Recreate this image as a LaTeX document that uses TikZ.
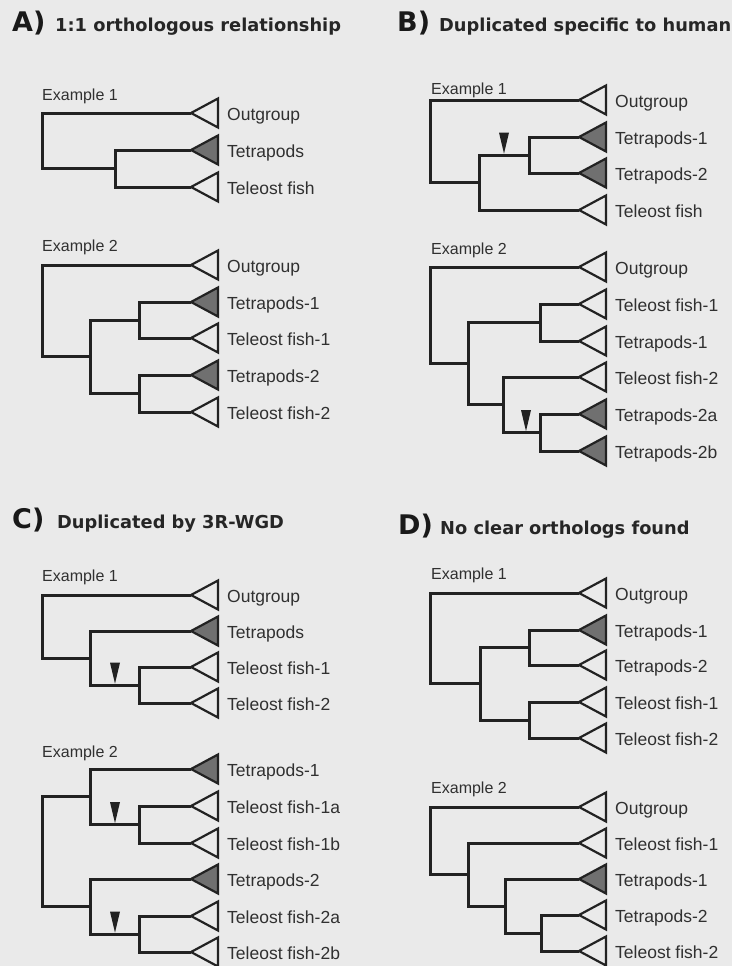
\documentclass[tikz,border=0pt]{standalone}
\usepackage{fontspec}
\setmainfont{Liberation Sans}
\newfontfamily\headfont{DejaVu Sans Bold}
\usetikzlibrary{calc}
\definecolor{paper}{RGB}{234,234,234}
\definecolor{ink}{RGB}{34,34,34}
\definecolor{tetragray}{RGB}{112,112,112}
\definecolor{labelink}{RGB}{48,48,48}
% leaf: name, tip x, y, triangle style, text
\newcommand{\leaf}[5]{%
  \coordinate (#1) at (#2,#3);
  \draw[#4] (#1) -- ++(27,-14.5) -- ++(0,29) -- cycle;
  \node[leaflabel] (#1-lab) at ([xshift=36pt,yshift=-7.5pt]#1) {#5};
}
% clade: parent, upper child, lower child
\newcommand{\clade}[3]{\draw[branch] (#2) -| (#1) |- (#3);}
% duplication mark sitting on a branch
\newcommand{\dupmark}[1]{\fill[ink] ([yshift=1.4pt]#1) -- ++(-5,-21) -- ++(10,0) -- cycle;}

\begin{document}
\begin{tikzpicture}[x=1pt,y=-1pt,
  branch/.style={ink,line width=3pt,line join=miter},
  opentri/.style={draw=ink,line width=2.2pt,line join=miter},
  graytri/.style={opentri,fill=tetragray},
  leaflabel/.style={anchor=base west,inner sep=0pt,text=labelink,font=\fontsize{17.5}{20}\selectfont},
  exlabel/.style={anchor=base west,inner sep=0pt,text=labelink,font=\fontsize{16}{18}\selectfont},
  panelletter/.style={anchor=base west,inner sep=0pt,text=black!90,font=\headfont\fontsize{27}{29}\selectfont},
  paneltitle/.style={anchor=base west,inner sep=0pt,text=black!85,font=\headfont\fontsize{17.8}{20}\selectfont}]
  \fill[paper] (0,0) rectangle (732,966);
  \useasboundingbox (0,0) rectangle (732,966);

  % A) 1:1 orthologous relationship
  \node[panelletter] (A) at (12,32) {A)};
  \node[paneltitle] (Atitle) at (55,32) {1:1 orthologous relationship};
  \node[exlabel] (a1lab) at (42,100) {Example 1};
  \leaf{a1o}{191}{113}{opentri}{Outgroup}
  \leaf{a1t}{191}{150}{graytri}{Tetrapods}
  \leaf{a1f}{191}{187}{opentri}{Teleost fish}
  \coordinate (a1n) at (115,168.5);
  \coordinate (a1r) at (42,140.75);
  \clade{a1n}{a1t}{a1f}
  \clade{a1r}{a1o}{a1n}

  \node[exlabel] (a2lab) at (42,251) {Example 2};
  \leaf{a2o}{191}{265}{opentri}{Outgroup}
  \leaf{a2t1}{191}{302}{graytri}{Tetrapods-1}
  \leaf{a2f1}{191}{338}{opentri}{Teleost fish-1}
  \leaf{a2t2}{191}{375}{graytri}{Tetrapods-2}
  \leaf{a2f2}{191}{412}{opentri}{Teleost fish-2}
  \coordinate (a2n2) at (139,320);
  \coordinate (a2n3) at (139,393.5);
  \coordinate (a2n1) at (90,356.75);
  \coordinate (a2r) at (42,310.9);
  \clade{a2n2}{a2t1}{a2f1}
  \clade{a2n3}{a2t2}{a2f2}
  \clade{a2n1}{a2n2}{a2n3}
  \clade{a2r}{a2o}{a2n1}

  % B) Duplicated specific to human
  \node[panelletter] (B) at (397,32) {B)};
  \node[paneltitle] (Btitle) at (439,32) {Duplicated specific to human};
  \node[exlabel] (b1lab) at (431,94) {Example 1};
  \leaf{b1o}{579}{100}{opentri}{Outgroup}
  \leaf{b1t1}{579}{137}{graytri}{Tetrapods-1}
  \leaf{b1t2}{579}{173}{graytri}{Tetrapods-2}
  \leaf{b1f}{579}{210}{opentri}{Teleost fish}
  \coordinate (b1n2) at (529,155);
  \coordinate (b1n1) at (479,182.5);
  \coordinate (b1r) at (430,141.25);
  \clade{b1n2}{b1t1}{b1t2}
  \clade{b1n1}{b1n2}{b1f}
  \clade{b1r}{b1o}{b1n1}
  \coordinate (b1d) at (504,155);
  \dupmark{b1d}

  \node[exlabel] (b2lab) at (431,254) {Example 2};
  \leaf{b2o}{579}{267}{opentri}{Outgroup}
  \leaf{b2f1}{579}{304}{opentri}{Teleost fish-1}
  \leaf{b2t1}{579}{341}{opentri}{Tetrapods-1}
  \leaf{b2f2}{579}{377}{opentri}{Teleost fish-2}
  \leaf{b2t2a}{579}{414}{graytri}{Tetrapods-2a}
  \leaf{b2t2b}{579}{451}{graytri}{Tetrapods-2b}
  \coordinate (b2n2) at (540,322.5);
  \coordinate (b2n4) at (540,432.5);
  \coordinate (b2n3) at (503,404.75);
  \coordinate (b2n1) at (468,363.6);
  \coordinate (b2r) at (430,315.3);
  \clade{b2n2}{b2f1}{b2t1}
  \clade{b2n4}{b2t2a}{b2t2b}
  \clade{b2n3}{b2f2}{b2n4}
  \clade{b2n1}{b2n2}{b2n3}
  \clade{b2r}{b2o}{b2n1}
  \coordinate (b2d) at (526,432.5);
  \dupmark{b2d}

  % C) Duplicated by 3R-WGD
  \node[panelletter] (C) at (12,528) {C)};
  \node[paneltitle] (Ctitle) at (57,528) {Duplicated by 3R-WGD};
  \node[exlabel] (c1lab) at (42,581) {Example 1};
  \leaf{c1o}{191}{595}{opentri}{Outgroup}
  \leaf{c1t}{191}{631}{graytri}{Tetrapods}
  \leaf{c1f1}{191}{667}{opentri}{Teleost fish-1}
  \leaf{c1f2}{191}{703}{opentri}{Teleost fish-2}
  \coordinate (c1n2) at (139,685);
  \coordinate (c1n1) at (90,658);
  \coordinate (c1r) at (42,626.5);
  \clade{c1n2}{c1f1}{c1f2}
  \clade{c1n1}{c1t}{c1n2}
  \clade{c1r}{c1o}{c1n1}
  \coordinate (c1d) at (115,685);
  \dupmark{c1d}

  \node[exlabel] (c2lab) at (42,757) {Example 2};
  \leaf{c2t1}{191}{769}{graytri}{Tetrapods-1}
  \leaf{c2f1a}{191}{806}{opentri}{Teleost fish-1a}
  \leaf{c2f1b}{191}{843}{opentri}{Teleost fish-1b}
  \leaf{c2t2}{191}{879}{graytri}{Tetrapods-2}
  \leaf{c2f2a}{191}{916}{opentri}{Teleost fish-2a}
  \leaf{c2f2b}{191}{952}{opentri}{Teleost fish-2b}
  \coordinate (c2n2) at (139,824.5);
  \coordinate (c2n1) at (90,796.75);
  \coordinate (c2n4) at (139,934);
  \coordinate (c2n3) at (90,906.5);
  \coordinate (c2r) at (42,851.6);
  \clade{c2n2}{c2f1a}{c2f1b}
  \clade{c2n1}{c2t1}{c2n2}
  \clade{c2n4}{c2f2a}{c2f2b}
  \clade{c2n3}{c2t2}{c2n4}
  \clade{c2r}{c2n1}{c2n3}
  \coordinate (c2d1) at (115,824.5);
  \coordinate (c2d2) at (115,934);
  \dupmark{c2d1}
  \dupmark{c2d2}

  % D) No clear orthologs found
  \node[panelletter] (D) at (398,534) {D)};
  \node[paneltitle] (Dtitle) at (440,534) {No clear orthologs found};
  \node[exlabel] (d1lab) at (431,579) {Example 1};
  \leaf{d1o}{579}{593}{opentri}{Outgroup}
  \leaf{d1t1}{579}{630}{graytri}{Tetrapods-1}
  \leaf{d1t2}{579}{665}{opentri}{Tetrapods-2}
  \leaf{d1f1}{579}{702}{opentri}{Teleost fish-1}
  \leaf{d1f2}{579}{738}{opentri}{Teleost fish-2}
  \coordinate (d1n2) at (529,647.5);
  \coordinate (d1n3) at (529,720);
  \coordinate (d1n1) at (480,683.75);
  \coordinate (d1r) at (430,638.4);
  \clade{d1n2}{d1t1}{d1t2}
  \clade{d1n3}{d1f1}{d1f2}
  \clade{d1n1}{d1n2}{d1n3}
  \clade{d1r}{d1o}{d1n1}

  \node[exlabel] (d2lab) at (431,793) {Example 2};
  \leaf{d2o}{579}{807}{opentri}{Outgroup}
  \leaf{d2f1}{579}{843}{opentri}{Teleost fish-1}
  \leaf{d2t1}{579}{879}{graytri}{Tetrapods-1}
  \leaf{d2t2}{579}{915}{opentri}{Tetrapods-2}
  \leaf{d2f2}{579}{951}{opentri}{Teleost fish-2}
  \coordinate (d2n3) at (541,933);
  \coordinate (d2n2) at (505,906);
  \coordinate (d2n1) at (468,874.5);
  \coordinate (d2r) at (430,840.75);
  \clade{d2n3}{d2t2}{d2f2}
  \clade{d2n2}{d2t1}{d2n3}
  \clade{d2n1}{d2f1}{d2n2}
  \clade{d2r}{d2o}{d2n1}
\end{tikzpicture}
\end{document}
